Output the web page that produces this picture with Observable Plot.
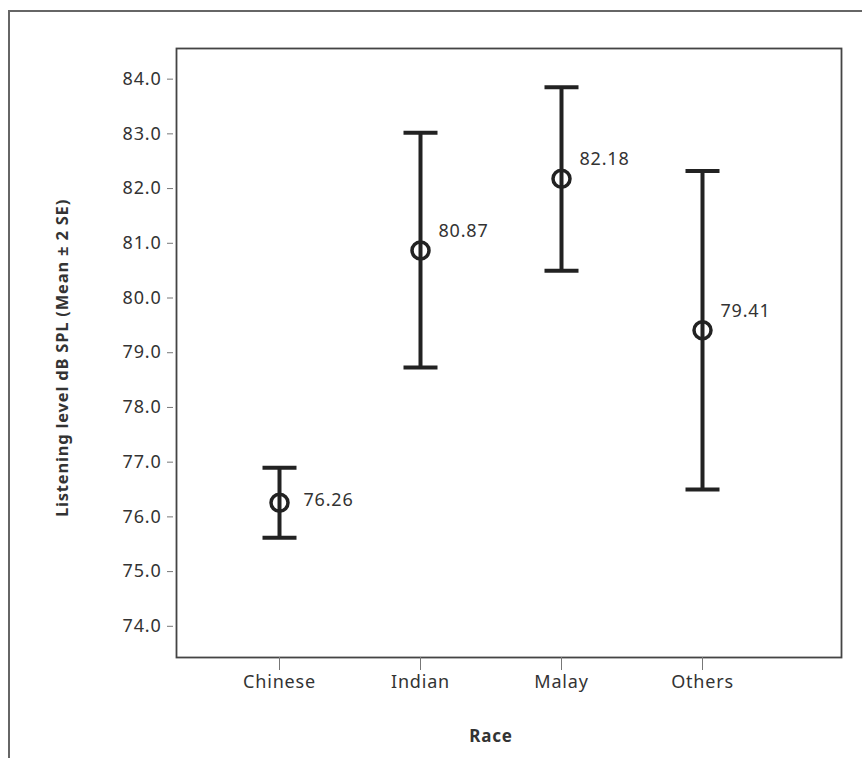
<!DOCTYPE html>
<html>
<head>
<meta charset="utf-8">
<script src="https://cdn.jsdelivr.net/npm/d3@7"></script>
<script src="https://cdn.jsdelivr.net/npm/@observablehq/plot@0.6"></script>
<style>
  html, body { margin: 0; padding: 0; background: #fff; }
  #wrap { position: relative; width: 862px; height: 758px; overflow: hidden; }
  #outer { position: absolute; left: 8px; top: 10px; width: 900px; height: 800px;
           border-left: 2px solid #666; border-top: 2px solid #666; pointer-events: none; }
  svg { font-family: "Noto Sans", "Open Sans", sans-serif; }
</style>
</head>
<body>
<div id="wrap"><div id="outer"></div></div>
<script>
const races = ["Chinese", "Indian", "Malay", "Others"];
const means = [76.26, 80.87, 82.18, 79.41];
const lower = [75.62, 78.73, 80.50, 76.50];
const upper = [76.90, 83.02, 83.85, 82.32];
const yTicks = [74, 75, 76, 77, 78, 79, 80, 81, 82, 83, 84];

const data = races.map((r, i) => ({race: r, mean: means[i], lo: lower[i], hi: upper[i]}));

const capSymbol = {
  draw(context, size) {
    const r = Math.sqrt(size / Math.PI);
    context.moveTo(-r, 0);
    context.lineTo(r, 0);
  }
};

const ink = "#222";
const txt = "#333";

const chart = Plot.plot({
  width: 862,
  height: 758,
  marginLeft: 176,
  marginRight: 21,
  marginTop: 48,
  marginBottom: 101,
  style: {fontSize: "18px", fontFamily: "'Noto Sans', sans-serif", color: txt, background: "transparent", letterSpacing: "0.8px"},
  x: {type: "point", domain: races, padding: 0, insetLeft: 102, insetRight: 139, label: null},
  y: {domain: [73.43, 84.56], label: null},
  marks: [
    Plot.frame({stroke: "#444", strokeWidth: 1.8}),
    Plot.axisY({ticks: yTicks, tickFormat: d3.format(".1f"), tickSize: 6, tickPadding: 6, dx: -3, stroke: "#777", fill: txt, fontSize: 18, label: null}),
    Plot.axisX({tickSize: 13, tickPadding: 5, stroke: "#777", fill: txt, fontSize: 18, label: null}),
    Plot.ruleX(data, {x: "race", y1: "lo", y2: "hi", stroke: ink, strokeWidth: 4}),
    Plot.dot(data, {x: "race", y: "hi", symbol: capSymbol, r: 17, stroke: ink, strokeWidth: 4, strokeLinecap: "butt"}),
    Plot.dot(data, {x: "race", y: "lo", symbol: capSymbol, r: 17, stroke: ink, strokeWidth: 4, strokeLinecap: "butt"}),
    Plot.dot(data, {x: "race", y: "mean", r: 8.5, stroke: ink, strokeWidth: 3.5, fill: "none"}),
    Plot.text(data.filter(d => d.race === "Chinese"), {x: "race", y: "mean", text: d => d.mean.toFixed(2), textAnchor: "start", dx: 24, dy: -2, fill: txt, fontSize: 18}),
    Plot.text(data.filter(d => d.race !== "Chinese"), {x: "race", y: "mean", text: d => d.mean.toFixed(2), textAnchor: "start", dx: 18, dy: -19, fill: txt, fontSize: 18}),
    Plot.text(["Race"], {frameAnchor: "bottom", text: d => d, dx: -18, dy: 84, fontWeight: "bold", fontSize: 17, fill: txt}),
    Plot.text(["Listening level dB SPL (Mean ± 2 SE)"], {frameAnchor: "left", textAnchor: "middle", text: d => d, rotate: -90, dx: -114, dy: 5, fontWeight: "bold", fontSize: 16.5, fill: txt})
  ]
});

document.getElementById("wrap").insertBefore(chart, document.getElementById("outer"));
</script>
</body>
</html>
